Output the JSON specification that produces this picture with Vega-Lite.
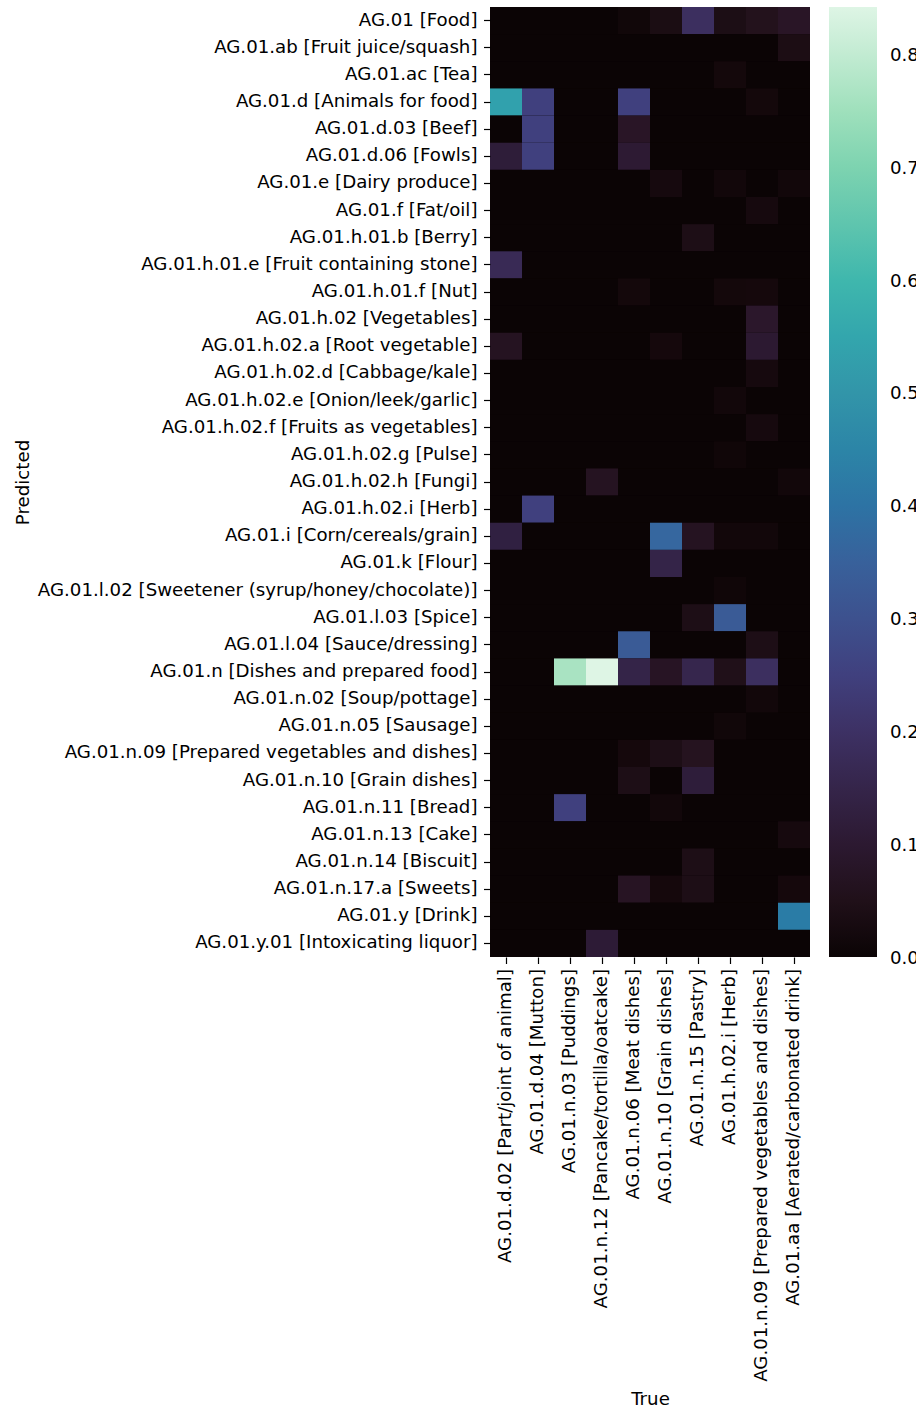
{
  "$schema": "https://vega.github.io/schema/vega-lite/v6.json",
  "autosize": {"type": "none"},
  "padding": {"left": 490, "top": 7, "right": 106, "bottom": 453},
  "width": 320,
  "height": 950,
  "background": "white",
  "config": {
    "view": {"stroke": null, "fill": "#0B0405"},
    "font": "DejaVu Sans",
    "axis": {
      "labelFont": "DejaVu Sans", "labelFontSize": 18.2, "labelColor": "black",
      "titleFont": "DejaVu Sans", "titleFontSize": 18.2, "titleFontWeight": "normal", "titleColor": "black",
      "tickSize": 6.5, "tickColor": "black", "tickWidth": 1.2,
      "domain": false, "grid": false, "labelLimit": 700
    }
  },
  "data": {"values": [
{"Predicted":"AG.01 [Food]","True":"AG.01.d.02 [Part/joint of animal]","value":0},
{"Predicted":"AG.01 [Food]","True":"AG.01.d.04 [Mutton]","value":0},
{"Predicted":"AG.01 [Food]","True":"AG.01.n.03 [Puddings]","value":0},
{"Predicted":"AG.01 [Food]","True":"AG.01.n.12 [Pancake/tortilla/oatcake]","value":0},
{"Predicted":"AG.01 [Food]","True":"AG.01.n.06 [Meat dishes]","value":0.01},
{"Predicted":"AG.01 [Food]","True":"AG.01.n.10 [Grain dishes]","value":0.034},
{"Predicted":"AG.01 [Food]","True":"AG.01.n.15 [Pastry]","value":0.19},
{"Predicted":"AG.01 [Food]","True":"AG.01.h.02.i [Herb]","value":0.037},
{"Predicted":"AG.01 [Food]","True":"AG.01.n.09 [Prepared vegetables and dishes]","value":0.058},
{"Predicted":"AG.01 [Food]","True":"AG.01.aa [Aerated/carbonated drink]","value":0.08},
{"Predicted":"AG.01.ab [Fruit juice/squash]","True":"AG.01.d.02 [Part/joint of animal]","value":0},
{"Predicted":"AG.01.ab [Fruit juice/squash]","True":"AG.01.d.04 [Mutton]","value":0},
{"Predicted":"AG.01.ab [Fruit juice/squash]","True":"AG.01.n.03 [Puddings]","value":0},
{"Predicted":"AG.01.ab [Fruit juice/squash]","True":"AG.01.n.12 [Pancake/tortilla/oatcake]","value":0},
{"Predicted":"AG.01.ab [Fruit juice/squash]","True":"AG.01.n.06 [Meat dishes]","value":0},
{"Predicted":"AG.01.ab [Fruit juice/squash]","True":"AG.01.n.10 [Grain dishes]","value":0},
{"Predicted":"AG.01.ab [Fruit juice/squash]","True":"AG.01.n.15 [Pastry]","value":0},
{"Predicted":"AG.01.ab [Fruit juice/squash]","True":"AG.01.h.02.i [Herb]","value":0},
{"Predicted":"AG.01.ab [Fruit juice/squash]","True":"AG.01.n.09 [Prepared vegetables and dishes]","value":0},
{"Predicted":"AG.01.ab [Fruit juice/squash]","True":"AG.01.aa [Aerated/carbonated drink]","value":0.035},
{"Predicted":"AG.01.ac [Tea]","True":"AG.01.d.02 [Part/joint of animal]","value":0},
{"Predicted":"AG.01.ac [Tea]","True":"AG.01.d.04 [Mutton]","value":0},
{"Predicted":"AG.01.ac [Tea]","True":"AG.01.n.03 [Puddings]","value":0},
{"Predicted":"AG.01.ac [Tea]","True":"AG.01.n.12 [Pancake/tortilla/oatcake]","value":0},
{"Predicted":"AG.01.ac [Tea]","True":"AG.01.n.06 [Meat dishes]","value":0},
{"Predicted":"AG.01.ac [Tea]","True":"AG.01.n.10 [Grain dishes]","value":0},
{"Predicted":"AG.01.ac [Tea]","True":"AG.01.n.15 [Pastry]","value":0},
{"Predicted":"AG.01.ac [Tea]","True":"AG.01.h.02.i [Herb]","value":0.015},
{"Predicted":"AG.01.ac [Tea]","True":"AG.01.n.09 [Prepared vegetables and dishes]","value":0},
{"Predicted":"AG.01.ac [Tea]","True":"AG.01.aa [Aerated/carbonated drink]","value":0},
{"Predicted":"AG.01.d [Animals for food]","True":"AG.01.d.02 [Part/joint of animal]","value":0.535},
{"Predicted":"AG.01.d [Animals for food]","True":"AG.01.d.04 [Mutton]","value":0.25},
{"Predicted":"AG.01.d [Animals for food]","True":"AG.01.n.03 [Puddings]","value":0},
{"Predicted":"AG.01.d [Animals for food]","True":"AG.01.n.12 [Pancake/tortilla/oatcake]","value":0},
{"Predicted":"AG.01.d [Animals for food]","True":"AG.01.n.06 [Meat dishes]","value":0.25},
{"Predicted":"AG.01.d [Animals for food]","True":"AG.01.n.10 [Grain dishes]","value":0},
{"Predicted":"AG.01.d [Animals for food]","True":"AG.01.n.15 [Pastry]","value":0},
{"Predicted":"AG.01.d [Animals for food]","True":"AG.01.h.02.i [Herb]","value":0},
{"Predicted":"AG.01.d [Animals for food]","True":"AG.01.n.09 [Prepared vegetables and dishes]","value":0.015},
{"Predicted":"AG.01.d [Animals for food]","True":"AG.01.aa [Aerated/carbonated drink]","value":0},
{"Predicted":"AG.01.d.03 [Beef]","True":"AG.01.d.02 [Part/joint of animal]","value":0},
{"Predicted":"AG.01.d.03 [Beef]","True":"AG.01.d.04 [Mutton]","value":0.25},
{"Predicted":"AG.01.d.03 [Beef]","True":"AG.01.n.03 [Puddings]","value":0},
{"Predicted":"AG.01.d.03 [Beef]","True":"AG.01.n.12 [Pancake/tortilla/oatcake]","value":0},
{"Predicted":"AG.01.d.03 [Beef]","True":"AG.01.n.06 [Meat dishes]","value":0.08},
{"Predicted":"AG.01.d.03 [Beef]","True":"AG.01.n.10 [Grain dishes]","value":0},
{"Predicted":"AG.01.d.03 [Beef]","True":"AG.01.n.15 [Pastry]","value":0},
{"Predicted":"AG.01.d.03 [Beef]","True":"AG.01.h.02.i [Herb]","value":0},
{"Predicted":"AG.01.d.03 [Beef]","True":"AG.01.n.09 [Prepared vegetables and dishes]","value":0},
{"Predicted":"AG.01.d.03 [Beef]","True":"AG.01.aa [Aerated/carbonated drink]","value":0},
{"Predicted":"AG.01.d.06 [Fowls]","True":"AG.01.d.02 [Part/joint of animal]","value":0.115},
{"Predicted":"AG.01.d.06 [Fowls]","True":"AG.01.d.04 [Mutton]","value":0.25},
{"Predicted":"AG.01.d.06 [Fowls]","True":"AG.01.n.03 [Puddings]","value":0},
{"Predicted":"AG.01.d.06 [Fowls]","True":"AG.01.n.12 [Pancake/tortilla/oatcake]","value":0},
{"Predicted":"AG.01.d.06 [Fowls]","True":"AG.01.n.06 [Meat dishes]","value":0.105},
{"Predicted":"AG.01.d.06 [Fowls]","True":"AG.01.n.10 [Grain dishes]","value":0},
{"Predicted":"AG.01.d.06 [Fowls]","True":"AG.01.n.15 [Pastry]","value":0},
{"Predicted":"AG.01.d.06 [Fowls]","True":"AG.01.h.02.i [Herb]","value":0},
{"Predicted":"AG.01.d.06 [Fowls]","True":"AG.01.n.09 [Prepared vegetables and dishes]","value":0},
{"Predicted":"AG.01.d.06 [Fowls]","True":"AG.01.aa [Aerated/carbonated drink]","value":0},
{"Predicted":"AG.01.e [Dairy produce]","True":"AG.01.d.02 [Part/joint of animal]","value":0},
{"Predicted":"AG.01.e [Dairy produce]","True":"AG.01.d.04 [Mutton]","value":0},
{"Predicted":"AG.01.e [Dairy produce]","True":"AG.01.n.03 [Puddings]","value":0},
{"Predicted":"AG.01.e [Dairy produce]","True":"AG.01.n.12 [Pancake/tortilla/oatcake]","value":0},
{"Predicted":"AG.01.e [Dairy produce]","True":"AG.01.n.06 [Meat dishes]","value":0},
{"Predicted":"AG.01.e [Dairy produce]","True":"AG.01.n.10 [Grain dishes]","value":0.02},
{"Predicted":"AG.01.e [Dairy produce]","True":"AG.01.n.15 [Pastry]","value":0},
{"Predicted":"AG.01.e [Dairy produce]","True":"AG.01.h.02.i [Herb]","value":0.012},
{"Predicted":"AG.01.e [Dairy produce]","True":"AG.01.n.09 [Prepared vegetables and dishes]","value":0},
{"Predicted":"AG.01.e [Dairy produce]","True":"AG.01.aa [Aerated/carbonated drink]","value":0.012},
{"Predicted":"AG.01.f [Fat/oil]","True":"AG.01.d.02 [Part/joint of animal]","value":0},
{"Predicted":"AG.01.f [Fat/oil]","True":"AG.01.d.04 [Mutton]","value":0},
{"Predicted":"AG.01.f [Fat/oil]","True":"AG.01.n.03 [Puddings]","value":0},
{"Predicted":"AG.01.f [Fat/oil]","True":"AG.01.n.12 [Pancake/tortilla/oatcake]","value":0},
{"Predicted":"AG.01.f [Fat/oil]","True":"AG.01.n.06 [Meat dishes]","value":0},
{"Predicted":"AG.01.f [Fat/oil]","True":"AG.01.n.10 [Grain dishes]","value":0},
{"Predicted":"AG.01.f [Fat/oil]","True":"AG.01.n.15 [Pastry]","value":0},
{"Predicted":"AG.01.f [Fat/oil]","True":"AG.01.h.02.i [Herb]","value":0},
{"Predicted":"AG.01.f [Fat/oil]","True":"AG.01.n.09 [Prepared vegetables and dishes]","value":0.02},
{"Predicted":"AG.01.f [Fat/oil]","True":"AG.01.aa [Aerated/carbonated drink]","value":0},
{"Predicted":"AG.01.h.01.b [Berry]","True":"AG.01.d.02 [Part/joint of animal]","value":0},
{"Predicted":"AG.01.h.01.b [Berry]","True":"AG.01.d.04 [Mutton]","value":0},
{"Predicted":"AG.01.h.01.b [Berry]","True":"AG.01.n.03 [Puddings]","value":0},
{"Predicted":"AG.01.h.01.b [Berry]","True":"AG.01.n.12 [Pancake/tortilla/oatcake]","value":0},
{"Predicted":"AG.01.h.01.b [Berry]","True":"AG.01.n.06 [Meat dishes]","value":0},
{"Predicted":"AG.01.h.01.b [Berry]","True":"AG.01.n.10 [Grain dishes]","value":0},
{"Predicted":"AG.01.h.01.b [Berry]","True":"AG.01.n.15 [Pastry]","value":0.04},
{"Predicted":"AG.01.h.01.b [Berry]","True":"AG.01.h.02.i [Herb]","value":0},
{"Predicted":"AG.01.h.01.b [Berry]","True":"AG.01.n.09 [Prepared vegetables and dishes]","value":0},
{"Predicted":"AG.01.h.01.b [Berry]","True":"AG.01.aa [Aerated/carbonated drink]","value":0},
{"Predicted":"AG.01.h.01.e [Fruit containing stone]","True":"AG.01.d.02 [Part/joint of animal]","value":0.17},
{"Predicted":"AG.01.h.01.e [Fruit containing stone]","True":"AG.01.d.04 [Mutton]","value":0},
{"Predicted":"AG.01.h.01.e [Fruit containing stone]","True":"AG.01.n.03 [Puddings]","value":0},
{"Predicted":"AG.01.h.01.e [Fruit containing stone]","True":"AG.01.n.12 [Pancake/tortilla/oatcake]","value":0},
{"Predicted":"AG.01.h.01.e [Fruit containing stone]","True":"AG.01.n.06 [Meat dishes]","value":0},
{"Predicted":"AG.01.h.01.e [Fruit containing stone]","True":"AG.01.n.10 [Grain dishes]","value":0},
{"Predicted":"AG.01.h.01.e [Fruit containing stone]","True":"AG.01.n.15 [Pastry]","value":0},
{"Predicted":"AG.01.h.01.e [Fruit containing stone]","True":"AG.01.h.02.i [Herb]","value":0},
{"Predicted":"AG.01.h.01.e [Fruit containing stone]","True":"AG.01.n.09 [Prepared vegetables and dishes]","value":0},
{"Predicted":"AG.01.h.01.e [Fruit containing stone]","True":"AG.01.aa [Aerated/carbonated drink]","value":0},
{"Predicted":"AG.01.h.01.f [Nut]","True":"AG.01.d.02 [Part/joint of animal]","value":0},
{"Predicted":"AG.01.h.01.f [Nut]","True":"AG.01.d.04 [Mutton]","value":0},
{"Predicted":"AG.01.h.01.f [Nut]","True":"AG.01.n.03 [Puddings]","value":0},
{"Predicted":"AG.01.h.01.f [Nut]","True":"AG.01.n.12 [Pancake/tortilla/oatcake]","value":0},
{"Predicted":"AG.01.h.01.f [Nut]","True":"AG.01.n.06 [Meat dishes]","value":0.015},
{"Predicted":"AG.01.h.01.f [Nut]","True":"AG.01.n.10 [Grain dishes]","value":0},
{"Predicted":"AG.01.h.01.f [Nut]","True":"AG.01.n.15 [Pastry]","value":0},
{"Predicted":"AG.01.h.01.f [Nut]","True":"AG.01.h.02.i [Herb]","value":0.015},
{"Predicted":"AG.01.h.01.f [Nut]","True":"AG.01.n.09 [Prepared vegetables and dishes]","value":0.017},
{"Predicted":"AG.01.h.01.f [Nut]","True":"AG.01.aa [Aerated/carbonated drink]","value":0},
{"Predicted":"AG.01.h.02 [Vegetables]","True":"AG.01.d.02 [Part/joint of animal]","value":0},
{"Predicted":"AG.01.h.02 [Vegetables]","True":"AG.01.d.04 [Mutton]","value":0},
{"Predicted":"AG.01.h.02 [Vegetables]","True":"AG.01.n.03 [Puddings]","value":0},
{"Predicted":"AG.01.h.02 [Vegetables]","True":"AG.01.n.12 [Pancake/tortilla/oatcake]","value":0},
{"Predicted":"AG.01.h.02 [Vegetables]","True":"AG.01.n.06 [Meat dishes]","value":0},
{"Predicted":"AG.01.h.02 [Vegetables]","True":"AG.01.n.10 [Grain dishes]","value":0},
{"Predicted":"AG.01.h.02 [Vegetables]","True":"AG.01.n.15 [Pastry]","value":0},
{"Predicted":"AG.01.h.02 [Vegetables]","True":"AG.01.h.02.i [Herb]","value":0},
{"Predicted":"AG.01.h.02 [Vegetables]","True":"AG.01.n.09 [Prepared vegetables and dishes]","value":0.09},
{"Predicted":"AG.01.h.02 [Vegetables]","True":"AG.01.aa [Aerated/carbonated drink]","value":0},
{"Predicted":"AG.01.h.02.a [Root vegetable]","True":"AG.01.d.02 [Part/joint of animal]","value":0.068},
{"Predicted":"AG.01.h.02.a [Root vegetable]","True":"AG.01.d.04 [Mutton]","value":0},
{"Predicted":"AG.01.h.02.a [Root vegetable]","True":"AG.01.n.03 [Puddings]","value":0},
{"Predicted":"AG.01.h.02.a [Root vegetable]","True":"AG.01.n.12 [Pancake/tortilla/oatcake]","value":0},
{"Predicted":"AG.01.h.02.a [Root vegetable]","True":"AG.01.n.06 [Meat dishes]","value":0},
{"Predicted":"AG.01.h.02.a [Root vegetable]","True":"AG.01.n.10 [Grain dishes]","value":0.017},
{"Predicted":"AG.01.h.02.a [Root vegetable]","True":"AG.01.n.15 [Pastry]","value":0},
{"Predicted":"AG.01.h.02.a [Root vegetable]","True":"AG.01.h.02.i [Herb]","value":0},
{"Predicted":"AG.01.h.02.a [Root vegetable]","True":"AG.01.n.09 [Prepared vegetables and dishes]","value":0.1},
{"Predicted":"AG.01.h.02.a [Root vegetable]","True":"AG.01.aa [Aerated/carbonated drink]","value":0},
{"Predicted":"AG.01.h.02.d [Cabbage/kale]","True":"AG.01.d.02 [Part/joint of animal]","value":0},
{"Predicted":"AG.01.h.02.d [Cabbage/kale]","True":"AG.01.d.04 [Mutton]","value":0},
{"Predicted":"AG.01.h.02.d [Cabbage/kale]","True":"AG.01.n.03 [Puddings]","value":0},
{"Predicted":"AG.01.h.02.d [Cabbage/kale]","True":"AG.01.n.12 [Pancake/tortilla/oatcake]","value":0},
{"Predicted":"AG.01.h.02.d [Cabbage/kale]","True":"AG.01.n.06 [Meat dishes]","value":0},
{"Predicted":"AG.01.h.02.d [Cabbage/kale]","True":"AG.01.n.10 [Grain dishes]","value":0},
{"Predicted":"AG.01.h.02.d [Cabbage/kale]","True":"AG.01.n.15 [Pastry]","value":0},
{"Predicted":"AG.01.h.02.d [Cabbage/kale]","True":"AG.01.h.02.i [Herb]","value":0},
{"Predicted":"AG.01.h.02.d [Cabbage/kale]","True":"AG.01.n.09 [Prepared vegetables and dishes]","value":0.02},
{"Predicted":"AG.01.h.02.d [Cabbage/kale]","True":"AG.01.aa [Aerated/carbonated drink]","value":0},
{"Predicted":"AG.01.h.02.e [Onion/leek/garlic]","True":"AG.01.d.02 [Part/joint of animal]","value":0},
{"Predicted":"AG.01.h.02.e [Onion/leek/garlic]","True":"AG.01.d.04 [Mutton]","value":0},
{"Predicted":"AG.01.h.02.e [Onion/leek/garlic]","True":"AG.01.n.03 [Puddings]","value":0},
{"Predicted":"AG.01.h.02.e [Onion/leek/garlic]","True":"AG.01.n.12 [Pancake/tortilla/oatcake]","value":0},
{"Predicted":"AG.01.h.02.e [Onion/leek/garlic]","True":"AG.01.n.06 [Meat dishes]","value":0},
{"Predicted":"AG.01.h.02.e [Onion/leek/garlic]","True":"AG.01.n.10 [Grain dishes]","value":0},
{"Predicted":"AG.01.h.02.e [Onion/leek/garlic]","True":"AG.01.n.15 [Pastry]","value":0},
{"Predicted":"AG.01.h.02.e [Onion/leek/garlic]","True":"AG.01.h.02.i [Herb]","value":0.012},
{"Predicted":"AG.01.h.02.e [Onion/leek/garlic]","True":"AG.01.n.09 [Prepared vegetables and dishes]","value":0},
{"Predicted":"AG.01.h.02.e [Onion/leek/garlic]","True":"AG.01.aa [Aerated/carbonated drink]","value":0},
{"Predicted":"AG.01.h.02.f [Fruits as vegetables]","True":"AG.01.d.02 [Part/joint of animal]","value":0},
{"Predicted":"AG.01.h.02.f [Fruits as vegetables]","True":"AG.01.d.04 [Mutton]","value":0},
{"Predicted":"AG.01.h.02.f [Fruits as vegetables]","True":"AG.01.n.03 [Puddings]","value":0},
{"Predicted":"AG.01.h.02.f [Fruits as vegetables]","True":"AG.01.n.12 [Pancake/tortilla/oatcake]","value":0},
{"Predicted":"AG.01.h.02.f [Fruits as vegetables]","True":"AG.01.n.06 [Meat dishes]","value":0},
{"Predicted":"AG.01.h.02.f [Fruits as vegetables]","True":"AG.01.n.10 [Grain dishes]","value":0},
{"Predicted":"AG.01.h.02.f [Fruits as vegetables]","True":"AG.01.n.15 [Pastry]","value":0},
{"Predicted":"AG.01.h.02.f [Fruits as vegetables]","True":"AG.01.h.02.i [Herb]","value":0},
{"Predicted":"AG.01.h.02.f [Fruits as vegetables]","True":"AG.01.n.09 [Prepared vegetables and dishes]","value":0.02},
{"Predicted":"AG.01.h.02.f [Fruits as vegetables]","True":"AG.01.aa [Aerated/carbonated drink]","value":0},
{"Predicted":"AG.01.h.02.g [Pulse]","True":"AG.01.d.02 [Part/joint of animal]","value":0},
{"Predicted":"AG.01.h.02.g [Pulse]","True":"AG.01.d.04 [Mutton]","value":0},
{"Predicted":"AG.01.h.02.g [Pulse]","True":"AG.01.n.03 [Puddings]","value":0},
{"Predicted":"AG.01.h.02.g [Pulse]","True":"AG.01.n.12 [Pancake/tortilla/oatcake]","value":0},
{"Predicted":"AG.01.h.02.g [Pulse]","True":"AG.01.n.06 [Meat dishes]","value":0},
{"Predicted":"AG.01.h.02.g [Pulse]","True":"AG.01.n.10 [Grain dishes]","value":0},
{"Predicted":"AG.01.h.02.g [Pulse]","True":"AG.01.n.15 [Pastry]","value":0},
{"Predicted":"AG.01.h.02.g [Pulse]","True":"AG.01.h.02.i [Herb]","value":0.008},
{"Predicted":"AG.01.h.02.g [Pulse]","True":"AG.01.n.09 [Prepared vegetables and dishes]","value":0},
{"Predicted":"AG.01.h.02.g [Pulse]","True":"AG.01.aa [Aerated/carbonated drink]","value":0},
{"Predicted":"AG.01.h.02.h [Fungi]","True":"AG.01.d.02 [Part/joint of animal]","value":0},
{"Predicted":"AG.01.h.02.h [Fungi]","True":"AG.01.d.04 [Mutton]","value":0},
{"Predicted":"AG.01.h.02.h [Fungi]","True":"AG.01.n.03 [Puddings]","value":0},
{"Predicted":"AG.01.h.02.h [Fungi]","True":"AG.01.n.12 [Pancake/tortilla/oatcake]","value":0.068},
{"Predicted":"AG.01.h.02.h [Fungi]","True":"AG.01.n.06 [Meat dishes]","value":0},
{"Predicted":"AG.01.h.02.h [Fungi]","True":"AG.01.n.10 [Grain dishes]","value":0},
{"Predicted":"AG.01.h.02.h [Fungi]","True":"AG.01.n.15 [Pastry]","value":0},
{"Predicted":"AG.01.h.02.h [Fungi]","True":"AG.01.h.02.i [Herb]","value":0},
{"Predicted":"AG.01.h.02.h [Fungi]","True":"AG.01.n.09 [Prepared vegetables and dishes]","value":0},
{"Predicted":"AG.01.h.02.h [Fungi]","True":"AG.01.aa [Aerated/carbonated drink]","value":0.012},
{"Predicted":"AG.01.h.02.i [Herb]","True":"AG.01.d.02 [Part/joint of animal]","value":0},
{"Predicted":"AG.01.h.02.i [Herb]","True":"AG.01.d.04 [Mutton]","value":0.25},
{"Predicted":"AG.01.h.02.i [Herb]","True":"AG.01.n.03 [Puddings]","value":0},
{"Predicted":"AG.01.h.02.i [Herb]","True":"AG.01.n.12 [Pancake/tortilla/oatcake]","value":0},
{"Predicted":"AG.01.h.02.i [Herb]","True":"AG.01.n.06 [Meat dishes]","value":0},
{"Predicted":"AG.01.h.02.i [Herb]","True":"AG.01.n.10 [Grain dishes]","value":0},
{"Predicted":"AG.01.h.02.i [Herb]","True":"AG.01.n.15 [Pastry]","value":0},
{"Predicted":"AG.01.h.02.i [Herb]","True":"AG.01.h.02.i [Herb]","value":0},
{"Predicted":"AG.01.h.02.i [Herb]","True":"AG.01.n.09 [Prepared vegetables and dishes]","value":0},
{"Predicted":"AG.01.h.02.i [Herb]","True":"AG.01.aa [Aerated/carbonated drink]","value":0},
{"Predicted":"AG.01.i [Corn/cereals/grain]","True":"AG.01.d.02 [Part/joint of animal]","value":0.13},
{"Predicted":"AG.01.i [Corn/cereals/grain]","True":"AG.01.d.04 [Mutton]","value":0},
{"Predicted":"AG.01.i [Corn/cereals/grain]","True":"AG.01.n.03 [Puddings]","value":0},
{"Predicted":"AG.01.i [Corn/cereals/grain]","True":"AG.01.n.12 [Pancake/tortilla/oatcake]","value":0},
{"Predicted":"AG.01.i [Corn/cereals/grain]","True":"AG.01.n.06 [Meat dishes]","value":0},
{"Predicted":"AG.01.i [Corn/cereals/grain]","True":"AG.01.n.10 [Grain dishes]","value":0.365},
{"Predicted":"AG.01.i [Corn/cereals/grain]","True":"AG.01.n.15 [Pastry]","value":0.068},
{"Predicted":"AG.01.i [Corn/cereals/grain]","True":"AG.01.h.02.i [Herb]","value":0.012},
{"Predicted":"AG.01.i [Corn/cereals/grain]","True":"AG.01.n.09 [Prepared vegetables and dishes]","value":0.012},
{"Predicted":"AG.01.i [Corn/cereals/grain]","True":"AG.01.aa [Aerated/carbonated drink]","value":0},
{"Predicted":"AG.01.k [Flour]","True":"AG.01.d.02 [Part/joint of animal]","value":0},
{"Predicted":"AG.01.k [Flour]","True":"AG.01.d.04 [Mutton]","value":0},
{"Predicted":"AG.01.k [Flour]","True":"AG.01.n.03 [Puddings]","value":0},
{"Predicted":"AG.01.k [Flour]","True":"AG.01.n.12 [Pancake/tortilla/oatcake]","value":0},
{"Predicted":"AG.01.k [Flour]","True":"AG.01.n.06 [Meat dishes]","value":0},
{"Predicted":"AG.01.k [Flour]","True":"AG.01.n.10 [Grain dishes]","value":0.145},
{"Predicted":"AG.01.k [Flour]","True":"AG.01.n.15 [Pastry]","value":0},
{"Predicted":"AG.01.k [Flour]","True":"AG.01.h.02.i [Herb]","value":0},
{"Predicted":"AG.01.k [Flour]","True":"AG.01.n.09 [Prepared vegetables and dishes]","value":0},
{"Predicted":"AG.01.k [Flour]","True":"AG.01.aa [Aerated/carbonated drink]","value":0},
{"Predicted":"AG.01.l.02 [Sweetener (syrup/honey/chocolate)]","True":"AG.01.d.02 [Part/joint of animal]","value":0},
{"Predicted":"AG.01.l.02 [Sweetener (syrup/honey/chocolate)]","True":"AG.01.d.04 [Mutton]","value":0},
{"Predicted":"AG.01.l.02 [Sweetener (syrup/honey/chocolate)]","True":"AG.01.n.03 [Puddings]","value":0},
{"Predicted":"AG.01.l.02 [Sweetener (syrup/honey/chocolate)]","True":"AG.01.n.12 [Pancake/tortilla/oatcake]","value":0},
{"Predicted":"AG.01.l.02 [Sweetener (syrup/honey/chocolate)]","True":"AG.01.n.06 [Meat dishes]","value":0},
{"Predicted":"AG.01.l.02 [Sweetener (syrup/honey/chocolate)]","True":"AG.01.n.10 [Grain dishes]","value":0},
{"Predicted":"AG.01.l.02 [Sweetener (syrup/honey/chocolate)]","True":"AG.01.n.15 [Pastry]","value":0},
{"Predicted":"AG.01.l.02 [Sweetener (syrup/honey/chocolate)]","True":"AG.01.h.02.i [Herb]","value":0.008},
{"Predicted":"AG.01.l.02 [Sweetener (syrup/honey/chocolate)]","True":"AG.01.n.09 [Prepared vegetables and dishes]","value":0},
{"Predicted":"AG.01.l.02 [Sweetener (syrup/honey/chocolate)]","True":"AG.01.aa [Aerated/carbonated drink]","value":0},
{"Predicted":"AG.01.l.03 [Spice]","True":"AG.01.d.02 [Part/joint of animal]","value":0},
{"Predicted":"AG.01.l.03 [Spice]","True":"AG.01.d.04 [Mutton]","value":0},
{"Predicted":"AG.01.l.03 [Spice]","True":"AG.01.n.03 [Puddings]","value":0},
{"Predicted":"AG.01.l.03 [Spice]","True":"AG.01.n.12 [Pancake/tortilla/oatcake]","value":0},
{"Predicted":"AG.01.l.03 [Spice]","True":"AG.01.n.06 [Meat dishes]","value":0},
{"Predicted":"AG.01.l.03 [Spice]","True":"AG.01.n.10 [Grain dishes]","value":0},
{"Predicted":"AG.01.l.03 [Spice]","True":"AG.01.n.15 [Pastry]","value":0.04},
{"Predicted":"AG.01.l.03 [Spice]","True":"AG.01.h.02.i [Herb]","value":0.33},
{"Predicted":"AG.01.l.03 [Spice]","True":"AG.01.n.09 [Prepared vegetables and dishes]","value":0},
{"Predicted":"AG.01.l.03 [Spice]","True":"AG.01.aa [Aerated/carbonated drink]","value":0},
{"Predicted":"AG.01.l.04 [Sauce/dressing]","True":"AG.01.d.02 [Part/joint of animal]","value":0},
{"Predicted":"AG.01.l.04 [Sauce/dressing]","True":"AG.01.d.04 [Mutton]","value":0},
{"Predicted":"AG.01.l.04 [Sauce/dressing]","True":"AG.01.n.03 [Puddings]","value":0},
{"Predicted":"AG.01.l.04 [Sauce/dressing]","True":"AG.01.n.12 [Pancake/tortilla/oatcake]","value":0},
{"Predicted":"AG.01.l.04 [Sauce/dressing]","True":"AG.01.n.06 [Meat dishes]","value":0.33},
{"Predicted":"AG.01.l.04 [Sauce/dressing]","True":"AG.01.n.10 [Grain dishes]","value":0},
{"Predicted":"AG.01.l.04 [Sauce/dressing]","True":"AG.01.n.15 [Pastry]","value":0},
{"Predicted":"AG.01.l.04 [Sauce/dressing]","True":"AG.01.h.02.i [Herb]","value":0},
{"Predicted":"AG.01.l.04 [Sauce/dressing]","True":"AG.01.n.09 [Prepared vegetables and dishes]","value":0.04},
{"Predicted":"AG.01.l.04 [Sauce/dressing]","True":"AG.01.aa [Aerated/carbonated drink]","value":0},
{"Predicted":"AG.01.n [Dishes and prepared food]","True":"AG.01.d.02 [Part/joint of animal]","value":0},
{"Predicted":"AG.01.n [Dishes and prepared food]","True":"AG.01.d.04 [Mutton]","value":0},
{"Predicted":"AG.01.n [Dishes and prepared food]","True":"AG.01.n.03 [Puddings]","value":0.763},
{"Predicted":"AG.01.n [Dishes and prepared food]","True":"AG.01.n.12 [Pancake/tortilla/oatcake]","value":0.842},
{"Predicted":"AG.01.n [Dishes and prepared food]","True":"AG.01.n.06 [Meat dishes]","value":0.145},
{"Predicted":"AG.01.n [Dishes and prepared food]","True":"AG.01.n.10 [Grain dishes]","value":0.075},
{"Predicted":"AG.01.n [Dishes and prepared food]","True":"AG.01.n.15 [Pastry]","value":0.155},
{"Predicted":"AG.01.n [Dishes and prepared food]","True":"AG.01.h.02.i [Herb]","value":0.05},
{"Predicted":"AG.01.n [Dishes and prepared food]","True":"AG.01.n.09 [Prepared vegetables and dishes]","value":0.19},
{"Predicted":"AG.01.n [Dishes and prepared food]","True":"AG.01.aa [Aerated/carbonated drink]","value":0},
{"Predicted":"AG.01.n.02 [Soup/pottage]","True":"AG.01.d.02 [Part/joint of animal]","value":0},
{"Predicted":"AG.01.n.02 [Soup/pottage]","True":"AG.01.d.04 [Mutton]","value":0},
{"Predicted":"AG.01.n.02 [Soup/pottage]","True":"AG.01.n.03 [Puddings]","value":0},
{"Predicted":"AG.01.n.02 [Soup/pottage]","True":"AG.01.n.12 [Pancake/tortilla/oatcake]","value":0},
{"Predicted":"AG.01.n.02 [Soup/pottage]","True":"AG.01.n.06 [Meat dishes]","value":0},
{"Predicted":"AG.01.n.02 [Soup/pottage]","True":"AG.01.n.10 [Grain dishes]","value":0},
{"Predicted":"AG.01.n.02 [Soup/pottage]","True":"AG.01.n.15 [Pastry]","value":0},
{"Predicted":"AG.01.n.02 [Soup/pottage]","True":"AG.01.h.02.i [Herb]","value":0},
{"Predicted":"AG.01.n.02 [Soup/pottage]","True":"AG.01.n.09 [Prepared vegetables and dishes]","value":0.012},
{"Predicted":"AG.01.n.02 [Soup/pottage]","True":"AG.01.aa [Aerated/carbonated drink]","value":0},
{"Predicted":"AG.01.n.05 [Sausage]","True":"AG.01.d.02 [Part/joint of animal]","value":0},
{"Predicted":"AG.01.n.05 [Sausage]","True":"AG.01.d.04 [Mutton]","value":0},
{"Predicted":"AG.01.n.05 [Sausage]","True":"AG.01.n.03 [Puddings]","value":0},
{"Predicted":"AG.01.n.05 [Sausage]","True":"AG.01.n.12 [Pancake/tortilla/oatcake]","value":0},
{"Predicted":"AG.01.n.05 [Sausage]","True":"AG.01.n.06 [Meat dishes]","value":0},
{"Predicted":"AG.01.n.05 [Sausage]","True":"AG.01.n.10 [Grain dishes]","value":0},
{"Predicted":"AG.01.n.05 [Sausage]","True":"AG.01.n.15 [Pastry]","value":0},
{"Predicted":"AG.01.n.05 [Sausage]","True":"AG.01.h.02.i [Herb]","value":0.01},
{"Predicted":"AG.01.n.05 [Sausage]","True":"AG.01.n.09 [Prepared vegetables and dishes]","value":0},
{"Predicted":"AG.01.n.05 [Sausage]","True":"AG.01.aa [Aerated/carbonated drink]","value":0},
{"Predicted":"AG.01.n.09 [Prepared vegetables and dishes]","True":"AG.01.d.02 [Part/joint of animal]","value":0},
{"Predicted":"AG.01.n.09 [Prepared vegetables and dishes]","True":"AG.01.d.04 [Mutton]","value":0},
{"Predicted":"AG.01.n.09 [Prepared vegetables and dishes]","True":"AG.01.n.03 [Puddings]","value":0},
{"Predicted":"AG.01.n.09 [Prepared vegetables and dishes]","True":"AG.01.n.12 [Pancake/tortilla/oatcake]","value":0},
{"Predicted":"AG.01.n.09 [Prepared vegetables and dishes]","True":"AG.01.n.06 [Meat dishes]","value":0.017},
{"Predicted":"AG.01.n.09 [Prepared vegetables and dishes]","True":"AG.01.n.10 [Grain dishes]","value":0.04},
{"Predicted":"AG.01.n.09 [Prepared vegetables and dishes]","True":"AG.01.n.15 [Pastry]","value":0.065},
{"Predicted":"AG.01.n.09 [Prepared vegetables and dishes]","True":"AG.01.h.02.i [Herb]","value":0},
{"Predicted":"AG.01.n.09 [Prepared vegetables and dishes]","True":"AG.01.n.09 [Prepared vegetables and dishes]","value":0},
{"Predicted":"AG.01.n.09 [Prepared vegetables and dishes]","True":"AG.01.aa [Aerated/carbonated drink]","value":0},
{"Predicted":"AG.01.n.10 [Grain dishes]","True":"AG.01.d.02 [Part/joint of animal]","value":0},
{"Predicted":"AG.01.n.10 [Grain dishes]","True":"AG.01.d.04 [Mutton]","value":0},
{"Predicted":"AG.01.n.10 [Grain dishes]","True":"AG.01.n.03 [Puddings]","value":0},
{"Predicted":"AG.01.n.10 [Grain dishes]","True":"AG.01.n.12 [Pancake/tortilla/oatcake]","value":0},
{"Predicted":"AG.01.n.10 [Grain dishes]","True":"AG.01.n.06 [Meat dishes]","value":0.04},
{"Predicted":"AG.01.n.10 [Grain dishes]","True":"AG.01.n.10 [Grain dishes]","value":0},
{"Predicted":"AG.01.n.10 [Grain dishes]","True":"AG.01.n.15 [Pastry]","value":0.117},
{"Predicted":"AG.01.n.10 [Grain dishes]","True":"AG.01.h.02.i [Herb]","value":0},
{"Predicted":"AG.01.n.10 [Grain dishes]","True":"AG.01.n.09 [Prepared vegetables and dishes]","value":0},
{"Predicted":"AG.01.n.10 [Grain dishes]","True":"AG.01.aa [Aerated/carbonated drink]","value":0},
{"Predicted":"AG.01.n.11 [Bread]","True":"AG.01.d.02 [Part/joint of animal]","value":0},
{"Predicted":"AG.01.n.11 [Bread]","True":"AG.01.d.04 [Mutton]","value":0},
{"Predicted":"AG.01.n.11 [Bread]","True":"AG.01.n.03 [Puddings]","value":0.25},
{"Predicted":"AG.01.n.11 [Bread]","True":"AG.01.n.12 [Pancake/tortilla/oatcake]","value":0},
{"Predicted":"AG.01.n.11 [Bread]","True":"AG.01.n.06 [Meat dishes]","value":0},
{"Predicted":"AG.01.n.11 [Bread]","True":"AG.01.n.10 [Grain dishes]","value":0.012},
{"Predicted":"AG.01.n.11 [Bread]","True":"AG.01.n.15 [Pastry]","value":0},
{"Predicted":"AG.01.n.11 [Bread]","True":"AG.01.h.02.i [Herb]","value":0},
{"Predicted":"AG.01.n.11 [Bread]","True":"AG.01.n.09 [Prepared vegetables and dishes]","value":0},
{"Predicted":"AG.01.n.11 [Bread]","True":"AG.01.aa [Aerated/carbonated drink]","value":0},
{"Predicted":"AG.01.n.13 [Cake]","True":"AG.01.d.02 [Part/joint of animal]","value":0},
{"Predicted":"AG.01.n.13 [Cake]","True":"AG.01.d.04 [Mutton]","value":0},
{"Predicted":"AG.01.n.13 [Cake]","True":"AG.01.n.03 [Puddings]","value":0},
{"Predicted":"AG.01.n.13 [Cake]","True":"AG.01.n.12 [Pancake/tortilla/oatcake]","value":0},
{"Predicted":"AG.01.n.13 [Cake]","True":"AG.01.n.06 [Meat dishes]","value":0},
{"Predicted":"AG.01.n.13 [Cake]","True":"AG.01.n.10 [Grain dishes]","value":0},
{"Predicted":"AG.01.n.13 [Cake]","True":"AG.01.n.15 [Pastry]","value":0},
{"Predicted":"AG.01.n.13 [Cake]","True":"AG.01.h.02.i [Herb]","value":0},
{"Predicted":"AG.01.n.13 [Cake]","True":"AG.01.n.09 [Prepared vegetables and dishes]","value":0},
{"Predicted":"AG.01.n.13 [Cake]","True":"AG.01.aa [Aerated/carbonated drink]","value":0.02},
{"Predicted":"AG.01.n.14 [Biscuit]","True":"AG.01.d.02 [Part/joint of animal]","value":0},
{"Predicted":"AG.01.n.14 [Biscuit]","True":"AG.01.d.04 [Mutton]","value":0},
{"Predicted":"AG.01.n.14 [Biscuit]","True":"AG.01.n.03 [Puddings]","value":0},
{"Predicted":"AG.01.n.14 [Biscuit]","True":"AG.01.n.12 [Pancake/tortilla/oatcake]","value":0},
{"Predicted":"AG.01.n.14 [Biscuit]","True":"AG.01.n.06 [Meat dishes]","value":0},
{"Predicted":"AG.01.n.14 [Biscuit]","True":"AG.01.n.10 [Grain dishes]","value":0},
{"Predicted":"AG.01.n.14 [Biscuit]","True":"AG.01.n.15 [Pastry]","value":0.04},
{"Predicted":"AG.01.n.14 [Biscuit]","True":"AG.01.h.02.i [Herb]","value":0},
{"Predicted":"AG.01.n.14 [Biscuit]","True":"AG.01.n.09 [Prepared vegetables and dishes]","value":0},
{"Predicted":"AG.01.n.14 [Biscuit]","True":"AG.01.aa [Aerated/carbonated drink]","value":0},
{"Predicted":"AG.01.n.17.a [Sweets]","True":"AG.01.d.02 [Part/joint of animal]","value":0},
{"Predicted":"AG.01.n.17.a [Sweets]","True":"AG.01.d.04 [Mutton]","value":0},
{"Predicted":"AG.01.n.17.a [Sweets]","True":"AG.01.n.03 [Puddings]","value":0},
{"Predicted":"AG.01.n.17.a [Sweets]","True":"AG.01.n.12 [Pancake/tortilla/oatcake]","value":0},
{"Predicted":"AG.01.n.17.a [Sweets]","True":"AG.01.n.06 [Meat dishes]","value":0.072},
{"Predicted":"AG.01.n.17.a [Sweets]","True":"AG.01.n.10 [Grain dishes]","value":0.017},
{"Predicted":"AG.01.n.17.a [Sweets]","True":"AG.01.n.15 [Pastry]","value":0.04},
{"Predicted":"AG.01.n.17.a [Sweets]","True":"AG.01.h.02.i [Herb]","value":0},
{"Predicted":"AG.01.n.17.a [Sweets]","True":"AG.01.n.09 [Prepared vegetables and dishes]","value":0},
{"Predicted":"AG.01.n.17.a [Sweets]","True":"AG.01.aa [Aerated/carbonated drink]","value":0.017},
{"Predicted":"AG.01.y [Drink]","True":"AG.01.d.02 [Part/joint of animal]","value":0},
{"Predicted":"AG.01.y [Drink]","True":"AG.01.d.04 [Mutton]","value":0},
{"Predicted":"AG.01.y [Drink]","True":"AG.01.n.03 [Puddings]","value":0},
{"Predicted":"AG.01.y [Drink]","True":"AG.01.n.12 [Pancake/tortilla/oatcake]","value":0},
{"Predicted":"AG.01.y [Drink]","True":"AG.01.n.06 [Meat dishes]","value":0},
{"Predicted":"AG.01.y [Drink]","True":"AG.01.n.10 [Grain dishes]","value":0},
{"Predicted":"AG.01.y [Drink]","True":"AG.01.n.15 [Pastry]","value":0},
{"Predicted":"AG.01.y [Drink]","True":"AG.01.h.02.i [Herb]","value":0},
{"Predicted":"AG.01.y [Drink]","True":"AG.01.n.09 [Prepared vegetables and dishes]","value":0},
{"Predicted":"AG.01.y [Drink]","True":"AG.01.aa [Aerated/carbonated drink]","value":0.424},
{"Predicted":"AG.01.y.01 [Intoxicating liquor]","True":"AG.01.d.02 [Part/joint of animal]","value":0},
{"Predicted":"AG.01.y.01 [Intoxicating liquor]","True":"AG.01.d.04 [Mutton]","value":0},
{"Predicted":"AG.01.y.01 [Intoxicating liquor]","True":"AG.01.n.03 [Puddings]","value":0},
{"Predicted":"AG.01.y.01 [Intoxicating liquor]","True":"AG.01.n.12 [Pancake/tortilla/oatcake]","value":0.11},
{"Predicted":"AG.01.y.01 [Intoxicating liquor]","True":"AG.01.n.06 [Meat dishes]","value":0},
{"Predicted":"AG.01.y.01 [Intoxicating liquor]","True":"AG.01.n.10 [Grain dishes]","value":0},
{"Predicted":"AG.01.y.01 [Intoxicating liquor]","True":"AG.01.n.15 [Pastry]","value":0},
{"Predicted":"AG.01.y.01 [Intoxicating liquor]","True":"AG.01.h.02.i [Herb]","value":0},
{"Predicted":"AG.01.y.01 [Intoxicating liquor]","True":"AG.01.n.09 [Prepared vegetables and dishes]","value":0},
{"Predicted":"AG.01.y.01 [Intoxicating liquor]","True":"AG.01.aa [Aerated/carbonated drink]","value":0}
  ]},
  "mark": {"type": "rect", "strokeWidth": 0},
  "encoding": {
    "x": {
      "field": "True", "type": "nominal",
      "sort": ["AG.01.d.02 [Part/joint of animal]","AG.01.d.04 [Mutton]","AG.01.n.03 [Puddings]","AG.01.n.12 [Pancake/tortilla/oatcake]","AG.01.n.06 [Meat dishes]","AG.01.n.10 [Grain dishes]","AG.01.n.15 [Pastry]","AG.01.h.02.i [Herb]","AG.01.n.09 [Prepared vegetables and dishes]","AG.01.aa [Aerated/carbonated drink]"],
      "scale": {"paddingInner": 0, "paddingOuter": 0},
      "axis": {"orient": "bottom", "labelAngle": -90, "labelPadding": 5, "title": "True", "titleX": 160, "titleY": 447, "titleAlign": "center", "titleBaseline": "alphabetic", "titleAngle": 0}
    },
    "y": {
      "field": "Predicted", "type": "nominal",
      "sort": ["AG.01 [Food]","AG.01.ab [Fruit juice/squash]","AG.01.ac [Tea]","AG.01.d [Animals for food]","AG.01.d.03 [Beef]","AG.01.d.06 [Fowls]","AG.01.e [Dairy produce]","AG.01.f [Fat/oil]","AG.01.h.01.b [Berry]","AG.01.h.01.e [Fruit containing stone]","AG.01.h.01.f [Nut]","AG.01.h.02 [Vegetables]","AG.01.h.02.a [Root vegetable]","AG.01.h.02.d [Cabbage/kale]","AG.01.h.02.e [Onion/leek/garlic]","AG.01.h.02.f [Fruits as vegetables]","AG.01.h.02.g [Pulse]","AG.01.h.02.h [Fungi]","AG.01.h.02.i [Herb]","AG.01.i [Corn/cereals/grain]","AG.01.k [Flour]","AG.01.l.02 [Sweetener (syrup/honey/chocolate)]","AG.01.l.03 [Spice]","AG.01.l.04 [Sauce/dressing]","AG.01.n [Dishes and prepared food]","AG.01.n.02 [Soup/pottage]","AG.01.n.05 [Sausage]","AG.01.n.09 [Prepared vegetables and dishes]","AG.01.n.10 [Grain dishes]","AG.01.n.11 [Bread]","AG.01.n.13 [Cake]","AG.01.n.14 [Biscuit]","AG.01.n.17.a [Sweets]","AG.01.y [Drink]","AG.01.y.01 [Intoxicating liquor]"],
      "scale": {"paddingInner": 0, "paddingOuter": 0},
      "axis": {"orient": "left", "labelPadding": 6.5, "title": "Predicted", "titleX": -462, "titleY": 475, "titleAngle": -90, "titleAlign": "center", "titleBaseline": "alphabetic"}
    },
    "color": {
      "field": "value", "type": "quantitative",
      "scale": {
        "domain": [0, 0.1203, 0.2406, 0.3609, 0.4811, 0.6014, 0.7217, 0.842],
        "range": ["#0B0405", "#2E1E3C", "#413D7B", "#37659E", "#348FA7", "#40B7AD", "#8AD9B1", "#DEF5E5"]
      },
      "legend": {
        "type": "gradient", "title": null, "orient": "right", "offset": 19, "direction": "vertical",
        "gradientLength": 950, "gradientThickness": 48, "gradientStrokeWidth": 0,
        "values": [0, 0.1, 0.2, 0.3, 0.4, 0.5, 0.6, 0.7, 0.8], "format": ".1f",
        "labelFont": "DejaVu Sans", "labelFontSize": 18.2, "labelColor": "black", "labelOffset": 13,
        "labelBaseline": "middle", "labelOverlap": false,
        "encode": {"labels": {"update": {"baseline": {"value": "middle"}, "dy": {"value": 1.5}}}}
      }
    }
  }
}
